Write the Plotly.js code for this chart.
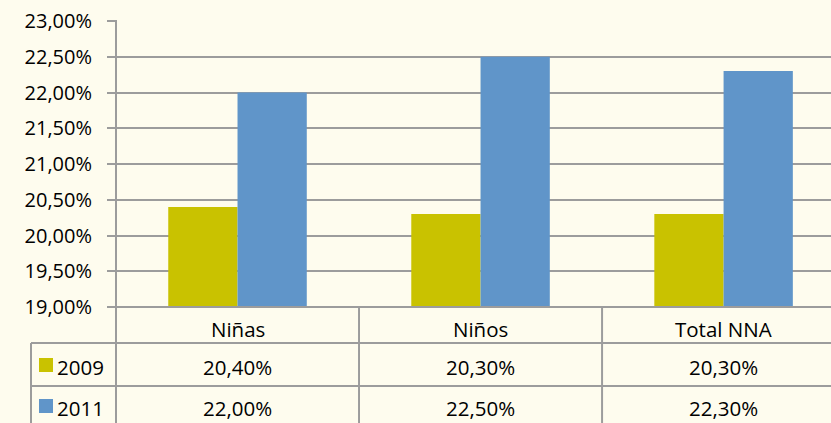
<!DOCTYPE html>
<html>
<head>
<meta charset="utf-8">
<script src="https://cdn.plot.ly/plotly-3.0.1.min.js"></script>
<style>html,body{margin:0;padding:0;background:#FEFCEE;}</style>
</head>
<body>
<div id="chart" style="width:831px;height:423px;"></div>
<script>
// ---- data ----
const categories = ["Niñas", "Niños", "Total NNA"];
const seriesNames = ["2009", "2011"];
const values2009 = [20.40, 20.30, 20.30];
const values2011 = [22.00, 22.50, 22.30];
const seriesColors = ["#C9C200", "#6095C9"];
const yTickValues = [19, 19.5, 20, 20.5, 21, 21.5, 22, 22.5, 23];

// ---- geometry helpers (pixel -> paper) ----
const W = 831, H = 423;
const M = {l: 116, r: 0, t: 21, b: 116};
const PW = W - M.l - M.r, PH = H - M.t - M.b;
const px = x => (x - M.l) / PW;
const py = y => (H - M.b - y) / PH;

const fmt = v => v.toFixed(2).replace('.', ',') + '%';
const FONT = {family: "Open Sans, Liberation Sans, sans-serif", size: 20.5, color: "#000000"};
const TICKFONT = {family: "Open Sans, Liberation Sans, sans-serif", size: 20, color: "#000000"};
const GRID = "#9C9C9C";

const traces = [values2009, values2011].map((vals, i) => ({
  type: "bar",
  x: categories,
  y: vals,
  name: seriesNames[i],
  marker: {color: seriesColors[i], line: {width: 0}},
  hoverinfo: "skip"
}));

const shapes = [];
const line = (x0, y0, x1, y1, xref) => shapes.push({
  type: "line", xref: xref || "paper", yref: "paper",
  x0: x0, y0: y0, x1: x1, y1: y1,
  line: {color: GRID, width: 2}, layer: "above"
});
// y axis line extended into table
line(px(116), 1.0035, px(116), py(425));
// x axis / header row top incl. tick
line(px(108), py(307), px(832), py(307));
// row separators
line(px(31), py(343), px(832), py(343));
line(px(31), py(386), px(832), py(386));
// left table border
line(px(31), py(343), px(31), py(425));
// category separators (through axis)
for (let k = 0; k < categories.length - 1; k++) {
  line(k + 0.5, py(307), k + 0.5, py(425), "x");
}

const annotations = [];
// header labels
categories.forEach(c => annotations.push({
  xref: "x", yref: "paper", x: c, y: py(329), text: c,
  showarrow: false, xanchor: "center", yanchor: "middle", font: FONT
}));
// rows
const rowCenters = [367, 408];
[values2009, values2011].forEach((vals, i) => {
  const yc = rowCenters[i];
  shapes.push({
    type: "rect", xref: "paper", yref: "paper",
    x0: px(39), x1: px(53), y0: py(yc - 9), y1: py(yc + 5),
    fillcolor: seriesColors[i], line: {width: 0}, layer: "above"
  });
  annotations.push({
    xref: "paper", yref: "paper", x: px(55), y: py(yc), text: seriesNames[i],
    showarrow: false, xanchor: "left", yanchor: "middle", font: FONT
  });
  vals.forEach((v, j) => annotations.push({
    xref: "x", yref: "paper", x: categories[j], y: py(yc), text: fmt(v),
    showarrow: false, xanchor: "center", yanchor: "middle", font: FONT
  }));
});

const layout = {
  width: W, height: H,
  margin: M,
  paper_bgcolor: "#FEFCEE",
  plot_bgcolor: "#FEFCEE",
  showlegend: false,
  barmode: "group",
  bargap: 0.43,
  bargroupgap: 0,
  separators: ",.",
  font: FONT,
  xaxis: {
    type: "category",
    range: [-0.5, 2.442],
    showticklabels: false, showgrid: false, zeroline: false, showline: false,
    ticks: "", fixedrange: true
  },
  yaxis: {
    range: [19, 23],
    tickmode: "array",
    tickvals: yTickValues,
    ticktext: yTickValues.map(fmt),
    ticks: "outside", ticklen: 8, tickwidth: 2, tickcolor: GRID,
    ticklabelstandoff: 11,
    showgrid: true, gridcolor: GRID, gridwidth: 2,
    zeroline: false, showline: false,
    tickfont: TICKFONT, fixedrange: true
  },
  shapes: shapes,
  annotations: annotations
};

Plotly.newPlot("chart", traces, layout, {displayModeBar: false, staticPlot: true});
</script>
</body>
</html>
